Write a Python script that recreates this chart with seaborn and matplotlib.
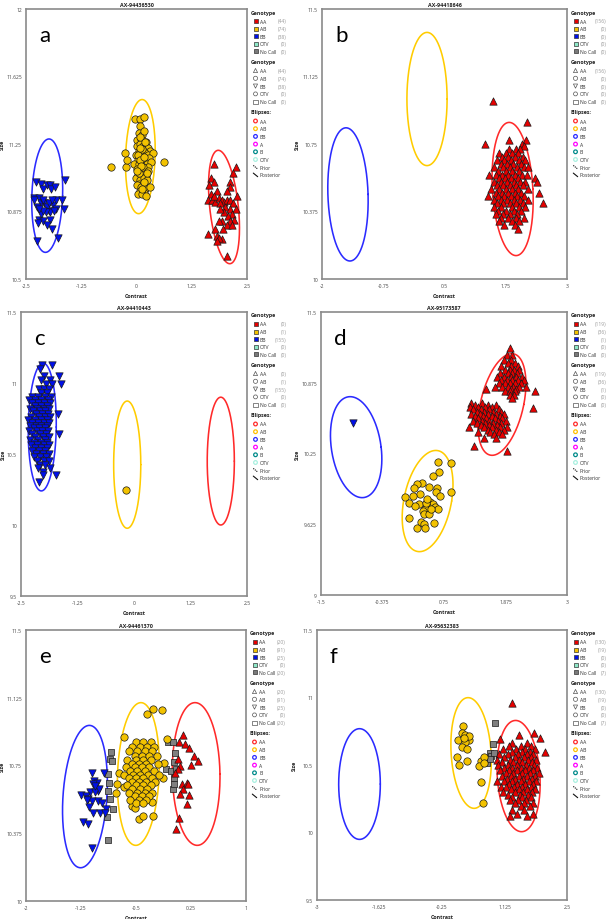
import numpy as np
import matplotlib
matplotlib.use("Agg")
import matplotlib.pyplot as plt
import seaborn as sns
from matplotlib.ticker import FormatStrFormatter

sns.set_style("white")
plt.rcParams['font.family'] = ['Open Sans', 'DejaVu Sans']

# ---------------- data ----------------
titles = ["AX-94436530", "AX-94418646", "AX-94410443",
          "AX-95173587", "AX-94461370", "AX-95632383"]
letters = ["a", "b", "c", "d", "e", "f"]

# genotype counts: AA, AB, BB, OTV, No Call
counts_a = [44, 74, 38, 0, 0]
counts_b = [156, 0, 0, 0, 0]
counts_c = [0, 1, 155, 0, 0]
counts_d = [119, 36, 1, 0, 0]
counts_e = [20, 91, 25, 0, 20]
counts_f = [130, 19, 0, 0, 7]

# axis ranges / ticks
xticks_a = [-2.5, -1.25, 0, 1.25, 2.5]
yticks_a = [10.5, 10.875, 11.25, 11.625, 12]
xticks_b = [-2, -0.75, 0.5, 1.75, 3]
yticks_b = [10, 10.375, 10.75, 11.125, 11.5]
xticks_c = [-2.5, -1.25, 0, 1.25, 2.5]
yticks_c = [9.5, 10, 10.5, 11, 11.5]
xticks_d = [-1.5, -0.375, 0.75, 1.875, 3]
yticks_d = [9, 9.625, 10.25, 10.875, 11.5]
xticks_e = [-2, -1.25, -0.5, 0.25, 1]
yticks_e = [10, 10.375, 10.75, 11.125, 11.5]
xticks_f = [-3, -1.625, -0.25, 1.125, 2.5]
yticks_f = [9.5, 10, 10.5, 11, 11.5]

# cluster ellipses (cx, cy, rx, ry, shear) for AA, AB, BB
ell_a = [(1.98, 10.90, 0.325, 0.315, -0.13), (0.087, 11.18, 0.334, 0.317, 0.04), (-2.02, 10.963, 0.348, 0.315, 0.04)]
ell_b = [(1.89, 10.50, 0.414, 0.37, -0.07), (0.143, 11.0, 0.41, 0.37, 0.0), (-1.47, 10.47, 0.41, 0.37, -0.04)]
ell_c = [(1.92, 10.45, 0.30, 0.45, 0.0), (-0.15, 10.425, 0.30, 0.448, 0.0), (-2.03, 10.69, 0.31, 0.45, 0.02)]
ell_d = [(1.81, 10.683, 0.40, 0.449, 0.18), (0.45, 9.83, 0.44, 0.447, 0.15), (-0.857, 10.306, 0.457, 0.446, -0.11)]
ell_e = [(0.32, 10.703, 0.325, 0.395, -0.015), (-0.468, 10.703, 0.284, 0.395, 0.035), (-1.196, 10.578, 0.30, 0.394, 0.06)]
ell_f = [(1.435, 10.418, 0.47, 0.412, -0.066), (0.39, 10.589, 0.44, 0.41, -0.066), (-2.065, 10.359, 0.458, 0.41, 0.0)]

# ---- panel a points ----
a_aa = [(1.75, 11.14), (2.24, 11.12), (2.18, 11.09), (1.68, 11.06), (1.75, 11.04), (2.11, 11.04), (1.65, 11.02),
        (2.12, 11.01), (2.05, 10.99), (1.68, 10.97), (1.82, 10.99), (1.62, 10.94), (1.71, 10.94), (1.78, 10.93),
        (1.86, 10.95), (1.93, 10.94), (1.97, 10.93), (2.05, 10.94), (2.12, 10.94), (2.18, 10.92), (1.90, 10.92),
        (2.01, 10.90), (2.11, 10.89), (2.24, 10.89), (1.97, 10.87), (2.16, 10.86), (2.06, 10.85), (2.20, 10.83),
        (2.12, 10.82), (1.93, 10.82), (1.86, 10.82), (2.05, 10.80), (1.78, 10.78), (1.96, 10.78), (2.16, 10.80),
        (1.61, 10.75), (1.82, 10.74), (1.93, 10.72), (1.86, 10.73), (1.81, 10.71), (2.05, 10.63), (1.90, 10.89),
        (1.75, 10.96), (2.27, 10.96)]
a_ab = [(-0.03, 11.39), (0.07, 11.39), (0.16, 11.40), (0.07, 11.35), (0.05, 11.31), (0.12, 11.30), (0.18, 11.32),
        (0.02, 11.27), (0.10, 11.28), (0.22, 11.26), (0.00, 11.24), (0.08, 11.25), (0.15, 11.24), (0.25, 11.23),
        (0.30, 11.21), (0.05, 11.21), (0.13, 11.22), (0.20, 11.20), (-0.02, 11.19), (0.09, 11.19), (0.17, 11.18),
        (0.26, 11.19), (0.38, 11.20), (0.03, 11.16), (0.11, 11.17), (0.19, 11.16), (0.28, 11.17), (-0.05, 11.14),
        (0.06, 11.14), (0.14, 11.13), (0.23, 11.14), (0.33, 11.15), (0.01, 11.11), (0.10, 11.11), (0.18, 11.10),
        (0.27, 11.12), (0.04, 11.08), (0.12, 11.08), (0.21, 11.07), (-0.01, 11.06), (0.08, 11.05), (0.16, 11.06),
        (0.24, 11.05), (0.06, 11.03), (0.15, 11.03), (0.02, 11.02), (0.11, 11.01), (0.20, 11.00), (0.07, 10.99),
        (0.17, 10.98), (0.03, 10.97), (0.13, 10.97), (0.22, 10.96), (0.05, 11.09), (0.14, 11.12), (0.09, 11.29),
        (0.19, 11.26), (0.04, 11.19), (0.12, 11.22), (0.25, 11.10), (0.08, 11.16), (0.16, 11.18), (0.07, 11.23),
        (0.24, 11.09), (0.10, 11.13), (-0.25, 11.20), (-0.24, 11.12), (-0.21, 11.16), (-0.57, 11.12), (0.62, 11.15),
        (0.30, 11.01), (0.00, 11.10), (0.18, 11.04), (0.13, 11.00)]
a_bb = [(-2.27, 11.04), (-2.15, 11.03), (-2.12, 11.00), (-2.03, 11.02), (-1.96, 11.02), (-1.94, 11.00), (-1.84, 11.01),
        (-1.62, 11.05), (-2.32, 10.95), (-2.20, 10.95), (-2.17, 10.92), (-2.26, 10.90), (-2.09, 10.92), (-1.99, 10.88),
        (-2.03, 10.90), (-1.96, 10.87), (-1.88, 10.91), (-1.81, 10.94), (-1.82, 10.89), (-1.69, 10.94), (-1.65, 10.89),
        (-2.20, 10.83), (-2.12, 10.82), (-1.96, 10.83), (-1.92, 10.78), (-2.22, 10.81), (-2.24, 10.71), (-1.77, 10.73),
        (-2.33, 10.94), (-2.11, 10.94), (-2.05, 10.87), (-2.15, 10.86), (-1.87, 10.88), (-1.97, 10.92), (-1.92, 10.94),
        (-2.11, 10.88), (-2.03, 10.80), (-2.20, 10.89)]

# ---- panel b points (rows: y, [x...]) ----
b_aa_rows = [
    (10.99, [1.48]), (10.87, [2.18]), (10.77, [1.81, 2.17]), (10.75, [1.33, 2.08]), (10.74, [2.12]),
    (10.72, [1.82, 1.95, 2.05]), (10.70, [1.62, 1.75, 1.88, 2.00]), (10.68, [1.68, 1.80, 1.93, 2.10]),
    (10.66, [1.58, 1.72, 1.85, 2.02, 2.15]), (10.64, [1.65, 1.78, 1.90, 2.07]),
    (10.62, [1.52, 1.70, 1.83, 1.97, 2.12, 2.20]), (10.60, [1.60, 1.75, 1.88, 2.03]),
    (10.58, [1.40, 1.55, 1.68, 1.80, 1.93, 2.08, 2.18]), (10.56, [1.62, 1.73, 1.86, 1.99, 2.34]),
    (10.54, [1.50, 1.66, 1.78, 1.91, 2.05, 2.14, 2.38]), (10.52, [1.58, 1.70, 1.83, 1.96, 2.10]),
    (10.50, [1.45, 1.62, 1.75, 1.88, 2.01, 2.20]), (10.48, [1.55, 1.67, 1.80, 1.93, 2.07, 2.42]),
    (10.46, [1.38, 1.60, 1.72, 1.85, 1.98, 2.12]), (10.44, [1.50, 1.65, 1.78, 1.91, 2.04, 2.20]),
    (10.42, [1.58, 1.70, 1.83, 1.96, 2.10, 2.52]), (10.40, [1.52, 1.66, 1.88, 2.02, 2.15]),
    (10.38, [1.60, 1.75, 1.92, 2.06]), (10.36, [1.55, 1.70, 1.84, 1.98]), (10.34, [1.65, 1.80, 1.95, 2.12]),
    (10.32, [1.62, 1.88, 2.03]), (10.30, [1.72, 1.93]), (10.28, [2.01])]

# ---- panel c points ----
c_ab = [(-0.17, 10.244)]
c_bb_rows = [
    (11.13, [-2.04, -1.81]), (11.10, [-2.08]), (11.05, [-1.99, -1.67]), (11.02, [-2.05, -1.85]),
    (10.99, [-1.95, -1.82, -1.61]), (10.96, [-2.10, -2.00, -1.88]), (10.93, [-2.05, -1.92]),
    (10.90, [-2.25, -2.12, -1.98, -1.84]), (10.88, [-2.32, -2.18, -2.05, -1.90]),
    (10.86, [-2.26, -2.12, -1.99, -1.85]), (10.84, [-2.20, -2.06, -1.93]),
    (10.82, [-2.30, -2.14, -2.00, -1.87]), (10.80, [-2.23, -2.09, -1.96]),
    (10.78, [-2.17, -2.03, -1.90, -1.69]), (10.76, [-2.27, -2.11, -1.98, -1.85]),
    (10.74, [-2.34, -2.20, -2.06, -1.93]), (10.72, [-2.25, -2.13, -2.00, -1.88]),
    (10.70, [-2.30, -2.17, -2.05, -1.92]), (10.68, [-2.22, -2.10, -1.97]),
    (10.66, [-2.32, -2.15, -2.03, -1.90]), (10.64, [-2.25, -2.08, -1.95, -1.67]),
    (10.62, [-2.18, -2.02, -1.88]), (10.60, [-2.30, -2.12, -1.98]), (10.58, [-2.22, -2.06, -1.92]),
    (10.56, [-2.27, -2.14, -2.00, -1.87]), (10.54, [-2.19, -2.05, -1.93]), (10.52, [-2.25, -2.10, -1.97]),
    (10.50, [-2.16, -2.02, -1.89]), (10.48, [-2.22, -2.08, -1.95]), (10.45, [-2.15, -2.00, -1.87]),
    (10.42, [-2.08, -1.96]), (10.40, [-2.12, -1.85]), (10.37, [-2.02]), (10.35, [-2.01, -1.72]),
    (10.30, [-2.11])]

# ---- panel d points ----
d_bb = [(-0.915, 10.522)]
d_ab = [(0.64, 10.175), (0.878, 10.163), (0.665, 10.087), (0.549, 10.051), (0.348, 9.992), (0.256, 9.978),
        (0.195, 9.948), (0.482, 9.954), (0.622, 9.948), (0.878, 9.910), (0.043, 9.869), (0.317, 9.889),
        (0.104, 9.816), (0.299, 9.801), (0.50, 9.825), (0.543, 9.801), (0.591, 9.780), (0.64, 9.763),
        (0.439, 9.786), (0.396, 9.763), (0.36, 9.742), (0.378, 9.713), (0.47, 9.719), (0.116, 9.683),
        (0.335, 9.645), (0.39, 9.630), (0.561, 9.639), (0.256, 9.595), (0.409, 9.595), (0.518, 9.757),
        (0.421, 9.810), (0.177, 9.875), (0.604, 9.910), (0.226, 9.786), (0.439, 9.845), (0.683, 9.875)]
d_aa_rows = [
    (11.18, [1.95]), (11.12, [1.90, 2.00]), (11.08, [1.85, 1.97]), (11.05, [1.92, 2.05]),
    (11.02, [1.80, 1.98, 2.10]), (10.99, [1.87, 1.95, 2.03, 2.12]), (10.96, [1.78, 1.92, 2.00, 2.08]),
    (10.93, [1.72, 1.85, 1.97, 2.06, 2.18]), (10.90, [1.80, 1.90, 2.00, 2.10, 2.22]),
    (10.87, [1.75, 1.87, 1.95, 2.05, 2.15]), (10.84, [1.68, 1.82, 1.92, 2.02, 2.12, 2.25]),
    (10.82, [1.52, 1.97, 2.07]), (10.80, [1.86, 1.95, 2.05, 2.42]), (10.77, [1.95, 2.03]),
    (10.74, [2.00]), (10.65, [2.37]),
    (10.70, [1.25, 1.45]), (10.68, [1.32, 1.55, 1.70]), (10.66, [1.22, 1.38, 1.50, 1.62]),
    (10.64, [1.28, 1.42, 1.58, 1.75]), (10.62, [1.35, 1.48, 1.65, 1.80]),
    (10.60, [1.25, 1.40, 1.55, 1.70, 1.85]), (10.58, [1.32, 1.47, 1.62, 1.77]),
    (10.56, [1.38, 1.52, 1.68, 1.82]), (10.54, [1.28, 1.45, 1.58, 1.73, 1.88]),
    (10.52, [1.35, 1.50, 1.65, 1.80]), (10.50, [1.42, 1.57, 1.72]),
    (10.48, [1.20, 1.48, 1.63, 1.78, 1.90]), (10.46, [1.55, 1.70, 1.85]), (10.44, [1.38, 1.60, 1.75]),
    (10.42, [1.67, 1.82]), (10.39, [1.48, 1.70]), (10.32, [1.29]), (10.27, [1.90])]

# ---- panel e points ----
e_bb = [(-1.105, 10.710), (-0.936, 10.710), (-1.073, 10.664), (-1.036, 10.655), (-1.091, 10.646),
        (-1.014, 10.609), (-1.127, 10.605), (-1.059, 10.603), (-1.000, 10.618), (-1.255, 10.585),
        (-1.182, 10.581), (-1.150, 10.566), (-1.105, 10.553), (-1.164, 10.559), (-1.014, 10.553),
        (-0.968, 10.541), (-1.136, 10.520), (-0.909, 10.507), (-0.991, 10.489), (-1.082, 10.485),
        (-0.923, 10.485), (-1.227, 10.437), (-1.150, 10.424), (-1.105, 10.295), (-1.059, 10.637)]
e_nocall = [(-0.845, 10.825), (-0.855, 10.784), (-0.877, 10.701), (-0.873, 10.655), (-0.886, 10.609),
            (-0.855, 10.563), (-0.818, 10.511), (-0.891, 10.467), (-0.877, 10.338), (-0.059, 10.880),
            (0.000, 10.880), (0.032, 10.821), (0.018, 10.769), (-0.091, 10.729), (-0.027, 10.720),
            (0.041, 10.732), (0.018, 10.683), (0.009, 10.618), (0.018, 10.646), (-0.832, 10.775)]
e_aa = [(0.136, 10.917), (0.086, 10.882), (0.168, 10.867), (0.227, 10.849), (0.295, 10.803), (0.350, 10.775),
        (0.068, 10.784), (0.100, 10.747), (0.245, 10.751), (0.077, 10.729), (0.032, 10.710), (0.123, 10.646),
        (0.191, 10.655), (0.214, 10.646), (0.136, 10.618), (0.100, 10.590), (0.227, 10.585), (0.191, 10.535),
        (0.091, 10.461), (0.041, 10.397)]
e_ab_extra = [(-0.273, 11.061), (-0.15, 11.057), (-0.355, 11.033), (-0.664, 10.908), (-0.755, 10.646),
              (-0.773, 10.60), (-0.727, 10.71), (-0.664, 10.631), (-0.082, 10.895), (-0.118, 10.766),
              (-0.136, 10.683), (-0.286, 10.548), (-0.273, 10.47), (-0.455, 10.456), (-0.40, 10.47),
              (-0.559, 10.526), (-0.514, 10.517)]
e_ab_rows = [
    (10.88, [-0.50, -0.40, -0.30]), (10.85, [-0.55, -0.45, -0.35, -0.25]), (10.83, [-0.60, -0.48, -0.38, -0.28]),
    (10.80, [-0.52, -0.42, -0.32, -0.22]), (10.78, [-0.62, -0.50, -0.40, -0.30]),
    (10.76, [-0.56, -0.46, -0.36, -0.20]), (10.74, [-0.64, -0.52, -0.42, -0.32]),
    (10.72, [-0.58, -0.48, -0.38, -0.26]), (10.70, [-0.66, -0.54, -0.44, -0.34, -0.18]),
    (10.68, [-0.60, -0.50, -0.40, -0.28]), (10.66, [-0.56, -0.46, -0.36, -0.24]),
    (10.64, [-0.62, -0.50, -0.40, -0.30]), (10.62, [-0.55, -0.45, -0.35]),
    (10.60, [-0.60, -0.48, -0.38, -0.28]), (10.58, [-0.52, -0.42, -0.32]), (10.56, [-0.58, -0.46, -0.36]),
    (10.54, [-0.50, -0.40])]

# ---- panel f points ----
f_ab = [(0.218, 10.789), (0.189, 10.740), (0.262, 10.720), (0.094, 10.685), (0.350, 10.683), (0.248, 10.670),
        (0.189, 10.636), (0.299, 10.621), (0.079, 10.559), (0.116, 10.500), (0.306, 10.530), (0.614, 10.530),
        (0.666, 10.559), (0.570, 10.493), (0.666, 10.512), (0.607, 10.374), (0.644, 10.216), (0.336, 10.715),
        (0.226, 10.702)]
f_nocall = [(0.922, 10.814), (0.871, 10.653), (0.812, 10.591), (0.827, 10.567), (0.886, 10.586),
            (0.739, 10.512), (0.812, 10.547)]
f_aa_rows = [
    (10.96, [1.30]), (10.74, [1.77]), (10.72, [1.44]), (10.70, [1.91]), (10.69, [1.02]), (10.66, [1.30, 1.63]),
    (10.64, [1.22, 1.48, 1.70]), (10.62, [1.10, 1.38, 1.57, 1.80]), (10.60, [1.30, 1.52, 1.68, 2.02]),
    (10.58, [1.00, 1.20, 1.42, 1.62, 1.75]), (10.56, [1.12, 1.35, 1.55, 1.70]),
    (10.54, [0.95, 1.25, 1.45, 1.65, 1.82]), (10.52, [1.08, 1.32, 1.52, 1.72]),
    (10.50, [0.98, 1.20, 1.40, 1.60, 1.78]), (10.48, [1.12, 1.30, 1.48, 1.66, 1.85]),
    (10.46, [1.02, 1.22, 1.40, 1.58, 1.75]), (10.44, [1.15, 1.32, 1.50, 1.68, 1.88]),
    (10.42, [1.08, 1.26, 1.44, 1.62, 1.80]), (10.40, [1.18, 1.36, 1.54, 1.72]),
    (10.38, [0.95, 1.12, 1.30, 1.48, 1.66, 1.82]), (10.36, [1.22, 1.40, 1.58, 1.76]),
    (10.34, [1.05, 1.16, 1.34, 1.52, 1.70]), (10.32, [1.26, 1.44, 1.62, 1.80]),
    (10.30, [1.10, 1.36, 1.54, 1.72]), (10.28, [1.20, 1.46, 1.64]), (10.26, [1.30, 1.50, 1.70]),
    (10.24, [1.25, 1.42, 1.60]), (10.22, [1.35, 1.55, 1.76]), (10.20, [1.48, 1.68]), (10.17, [1.28, 1.55]),
    (10.14, [1.40, 1.75]), (10.12, [1.25, 1.62])]


def expand(rows):
    return [(x, y) for y, xs in rows for x in xs]


# ---------------- styling ----------------
W, H = 611, 920
C_AA, C_AB, C_BB, C_NC = "#e60000", "#f2c200", "#0010e8", "#808080"
ELL_COLORS = ["#ff2a2a", "#ffcc00", "#2b2bff"]
GENO_NAMES = ["AA", "AB", "BB", "OTV", "No Call"]
FILL_COLORS = [C_AA, C_AB, C_BB, "#8fe8c8", "#7a7a7a"]
SHAPES = ["^", "o", "v", "8", "s"]
ELL_NAMES = ["AA", "AB", "BB", "A", "B", "OTV"]
ELL_LEG_COLORS = ["#ff2a2a", "#ffc000", "#2b2bff", "#ff00ff", "#008b8b", "#a8f0e0"]

# rect = (left, top, right, bottom) in pixels; ylab = x offset of "Size" from the left spine
panels = [
    dict(rect=(26, 10, 247, 280), ylab=21, xt=xticks_a, yt=yticks_a, ell=ell_a, counts=counts_a,
         aa=a_aa, ab=a_ab, bb=a_bb, nc=[]),
    dict(rect=(322, 10, 567, 280), ylab=22, xt=xticks_b, yt=yticks_b, ell=ell_b, counts=counts_b,
         aa=expand(b_aa_rows), ab=[], bb=[], nc=[]),
    dict(rect=(21, 313, 247, 597), ylab=15, xt=xticks_c, yt=yticks_c, ell=ell_c, counts=counts_c,
         aa=[], ab=c_ab, bb=expand(c_bb_rows), nc=[]),
    dict(rect=(321, 313, 567, 596), ylab=21, xt=xticks_d, yt=yticks_d, ell=ell_d, counts=counts_d,
         aa=expand(d_aa_rows), ab=d_ab, bb=d_bb, nc=[]),
    dict(rect=(26, 631, 246, 902), ylab=21, xt=xticks_e, yt=yticks_e, ell=ell_e, counts=counts_e,
         aa=e_aa, ab=e_ab_extra + expand(e_ab_rows), bb=e_bb, nc=e_nocall),
    dict(rect=(317, 631, 567, 901), ylab=20, xt=xticks_f, yt=yticks_f, ell=ell_f, counts=counts_f,
         aa=expand(f_aa_rows), ab=f_ab, bb=[], nc=f_nocall),
]

fig = plt.figure(figsize=(W / 100, H / 100), dpi=100)
t = np.linspace(0, 2 * np.pi, 300)


def scatter(ax, pts, marker, color, size):
    if not pts:
        return
    sns.scatterplot(x=[p[0] for p in pts], y=[p[1] for p in pts], marker=marker, color=color,
                    edgecolor="#1a1a1a", linewidth=0.5, s=size, ax=ax, zorder=3, legend=False)


for i, p in enumerate(panels):
    l, tp, r, b = p["rect"]
    ax = fig.add_axes([l / W, 1 - b / H, (r - l) / W, (b - tp) / H])
    # ellipses first, points on top
    for (cx, cy, rx, ry, sx), col in zip(p["ell"], ELL_COLORS):
        ax.plot(cx + rx * np.cos(t) + sx * np.sin(t), cy + ry * np.sin(t), color=col, lw=1.15, zorder=2)
    scatter(ax, p["nc"], "s", C_NC, 20)
    scatter(ax, p["bb"], "v", C_BB, 28)
    scatter(ax, p["ab"], "o", C_AB, 28)
    scatter(ax, p["aa"], "^", C_AA, 28)

    ax.set_xlim(p["xt"][0], p["xt"][-1])
    ax.set_ylim(p["yt"][0], p["yt"][-1])
    ax.set_xticks(p["xt"])
    ax.set_yticks(p["yt"])
    ax.xaxis.set_major_formatter(FormatStrFormatter("%g"))
    ax.yaxis.set_major_formatter(FormatStrFormatter("%g"))
    ax.tick_params(labelsize=3.6, length=1.5, width=0.5, colors="#444444", pad=1.5)
    for s in ax.spines.values():
        s.set_color("#8a8a8a")
        s.set_linewidth(1.2)
    wpx, hpx = r - l, b - tp
    ax.set_xlabel("Contrast", fontsize=3.9, fontweight="bold", color="#222222")
    ax.set_ylabel("Size", fontsize=3.9, fontweight="bold", color="#222222")
    ax.xaxis.set_label_coords(0.5, -14 / hpx)
    ax.yaxis.set_label_coords(-p["ylab"] / wpx, 0.5)
    ax.set_title(titles[i], fontsize=3.9, fontweight="bold", color="#222222", pad=2.5)
    ax.text(13 / wpx, 1 - 32 / hpx, letters[i], transform=ax.transAxes, fontsize=16,
            family="Lato", va="baseline", ha="left", color="black")

# ---------------- legends (overlay in pixel coordinates) ----------------
ov = fig.add_axes([0, 0, 1, 1])
ov.set_xlim(0, W)
ov.set_ylim(H, 0)
ov.axis("off")
FS = 3.6
for p in panels:
    l, tp, r, b = p["rect"]
    mx = r + 8.5
    tx = mx + 4.5
    cxr = mx + 31
    ov.text(mx - 5, tp + 3, "Genotype", fontsize=3.8, fontweight="bold", va="center", color="#222222")
    for k, (name, col, n) in enumerate(zip(GENO_NAMES, FILL_COLORS, p["counts"])):
        y = tp + 12 + 7.6 * k
        ov.scatter([mx], [y], marker="s", s=9, color=col, edgecolor="#333333", linewidth=0.5)
        ov.text(tx, y, name, fontsize=FS, va="center", color="#333333")
        ov.text(cxr, y, f"({n})", fontsize=FS, va="center", ha="right", color="#9a9a9a")
    ov.text(mx - 5, tp + 52.5, "Genotype", fontsize=3.8, fontweight="bold", va="center", color="#222222")
    for k, (name, shp, n) in enumerate(zip(GENO_NAMES, SHAPES, p["counts"])):
        y = tp + 61.5 + 7.8 * k
        ov.scatter([mx], [y], marker=shp, s=9, facecolor="none", edgecolor="#555555", linewidth=0.5)
        ov.text(tx, y, name, fontsize=FS, va="center", color="#333333")
        ov.text(cxr, y, f"({n})", fontsize=FS, va="center", ha="right", color="#9a9a9a")
    ov.text(mx - 5, tp + 102.5, "Ellipses:", fontsize=3.8, fontweight="bold", va="center", color="#222222")
    for k, (name, col) in enumerate(zip(ELL_NAMES, ELL_LEG_COLORS)):
        y = tp + 112 + 7.7 * k
        ov.scatter([mx], [y], marker="o", s=7, facecolor="none", edgecolor=col, linewidth=0.9)
        ov.text(tx, y, name, fontsize=FS, va="center", color="#333333")
    for k, (name, ls) in enumerate([("Prior", (0, (1, 0.8))), ("Posterior", "-")]):
        y = tp + 112 + 7.7 * (6 + k)
        ov.plot([mx - 2.2, mx + 2.2], [y - 1.8, y + 1.8], color="#111111", lw=0.8, ls=ls)
        ov.text(tx, y, name, fontsize=FS, va="center", color="#333333")

fig.savefig("out.png", dpi=100)
